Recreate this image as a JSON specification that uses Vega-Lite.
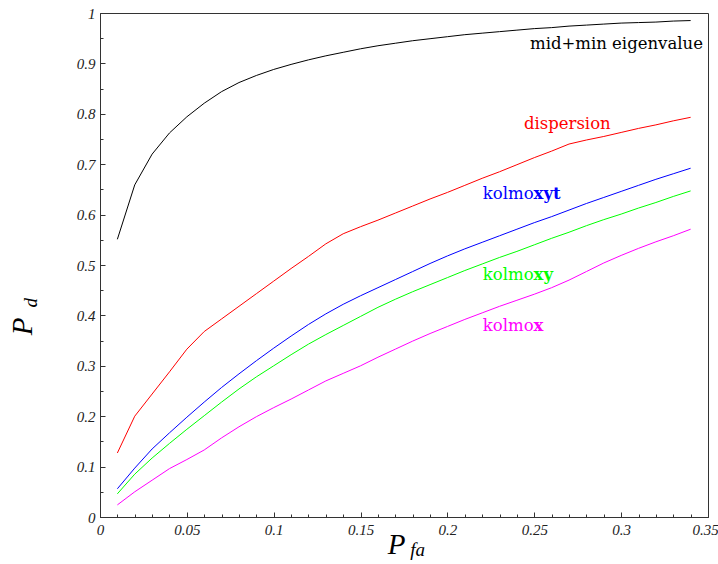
{
  "$schema": "https://vega.github.io/schema/vega-lite/v6.json",
  "width": 608,
  "height": 504,
  "autosize": {"type": "none"},
  "padding": {"left": 100, "top": 13, "right": 10, "bottom": 47},
  "background": "white",
  "config": {
    "view": {"stroke": "#333333", "strokeWidth": 1},
    "axis": {
      "grid": false,
      "domainColor": "#333333",
      "domainWidth": 1,
      "tickColor": "#333333",
      "tickWidth": 1,
      "labelFont": "Liberation Serif",
      "labelFontStyle": "italic",
      "labelFontSize": 15,
      "labelColor": "#222222",
      "titleFont": "Liberation Serif",
      "titleFontStyle": "italic",
      "titleFontWeight": "normal",
      "titleFontSize": 29,
      "titleColor": "#000000"
    }
  },
  "datasets": {
    "curves": [
      {"s":"mid+min eigenvalue","x":0.01,"y":0.551},{"s":"mid+min eigenvalue","x":0.02,"y":0.659},{"s":"mid+min eigenvalue","x":0.03,"y":0.720},{"s":"mid+min eigenvalue","x":0.04,"y":0.762},{"s":"mid+min eigenvalue","x":0.05,"y":0.794},{"s":"mid+min eigenvalue","x":0.06,"y":0.821},{"s":"mid+min eigenvalue","x":0.07,"y":0.844},{"s":"mid+min eigenvalue","x":0.08,"y":0.862},{"s":"mid+min eigenvalue","x":0.09,"y":0.876},{"s":"mid+min eigenvalue","x":0.10,"y":0.888},{"s":"mid+min eigenvalue","x":0.11,"y":0.898},{"s":"mid+min eigenvalue","x":0.12,"y":0.907},{"s":"mid+min eigenvalue","x":0.13,"y":0.915},{"s":"mid+min eigenvalue","x":0.14,"y":0.922},{"s":"mid+min eigenvalue","x":0.15,"y":0.929},{"s":"mid+min eigenvalue","x":0.16,"y":0.935},{"s":"mid+min eigenvalue","x":0.17,"y":0.940},{"s":"mid+min eigenvalue","x":0.18,"y":0.945},{"s":"mid+min eigenvalue","x":0.19,"y":0.949},{"s":"mid+min eigenvalue","x":0.20,"y":0.953},{"s":"mid+min eigenvalue","x":0.21,"y":0.957},{"s":"mid+min eigenvalue","x":0.22,"y":0.960},{"s":"mid+min eigenvalue","x":0.23,"y":0.963},{"s":"mid+min eigenvalue","x":0.24,"y":0.966},{"s":"mid+min eigenvalue","x":0.25,"y":0.969},{"s":"mid+min eigenvalue","x":0.26,"y":0.971},{"s":"mid+min eigenvalue","x":0.27,"y":0.974},{"s":"mid+min eigenvalue","x":0.28,"y":0.976},{"s":"mid+min eigenvalue","x":0.29,"y":0.978},{"s":"mid+min eigenvalue","x":0.30,"y":0.980},{"s":"mid+min eigenvalue","x":0.31,"y":0.981},{"s":"mid+min eigenvalue","x":0.32,"y":0.982},{"s":"mid+min eigenvalue","x":0.33,"y":0.984},{"s":"mid+min eigenvalue","x":0.34,"y":0.985},
      {"s":"dispersion","x":0.01,"y":0.127},{"s":"dispersion","x":0.02,"y":0.200},{"s":"dispersion","x":0.03,"y":0.244},{"s":"dispersion","x":0.04,"y":0.288},{"s":"dispersion","x":0.05,"y":0.333},{"s":"dispersion","x":0.06,"y":0.368},{"s":"dispersion","x":0.07,"y":0.393},{"s":"dispersion","x":0.08,"y":0.418},{"s":"dispersion","x":0.09,"y":0.443},{"s":"dispersion","x":0.10,"y":0.468},{"s":"dispersion","x":0.11,"y":0.493},{"s":"dispersion","x":0.12,"y":0.517},{"s":"dispersion","x":0.13,"y":0.542},{"s":"dispersion","x":0.14,"y":0.562},{"s":"dispersion","x":0.15,"y":0.576},{"s":"dispersion","x":0.16,"y":0.589},{"s":"dispersion","x":0.17,"y":0.603},{"s":"dispersion","x":0.18,"y":0.617},{"s":"dispersion","x":0.19,"y":0.631},{"s":"dispersion","x":0.20,"y":0.644},{"s":"dispersion","x":0.21,"y":0.658},{"s":"dispersion","x":0.22,"y":0.672},{"s":"dispersion","x":0.23,"y":0.685},{"s":"dispersion","x":0.24,"y":0.699},{"s":"dispersion","x":0.25,"y":0.713},{"s":"dispersion","x":0.26,"y":0.726},{"s":"dispersion","x":0.27,"y":0.740},{"s":"dispersion","x":0.28,"y":0.748},{"s":"dispersion","x":0.29,"y":0.755},{"s":"dispersion","x":0.30,"y":0.763},{"s":"dispersion","x":0.31,"y":0.771},{"s":"dispersion","x":0.32,"y":0.778},{"s":"dispersion","x":0.33,"y":0.786},{"s":"dispersion","x":0.34,"y":0.793},
      {"s":"kolmoxyt","x":0.01,"y":0.056},{"s":"kolmoxyt","x":0.02,"y":0.097},{"s":"kolmoxyt","x":0.03,"y":0.135},{"s":"kolmoxyt","x":0.04,"y":0.167},{"s":"kolmoxyt","x":0.05,"y":0.198},{"s":"kolmoxyt","x":0.06,"y":0.228},{"s":"kolmoxyt","x":0.07,"y":0.257},{"s":"kolmoxyt","x":0.08,"y":0.284},{"s":"kolmoxyt","x":0.09,"y":0.310},{"s":"kolmoxyt","x":0.10,"y":0.335},{"s":"kolmoxyt","x":0.11,"y":0.359},{"s":"kolmoxyt","x":0.12,"y":0.382},{"s":"kolmoxyt","x":0.13,"y":0.403},{"s":"kolmoxyt","x":0.14,"y":0.422},{"s":"kolmoxyt","x":0.15,"y":0.439},{"s":"kolmoxyt","x":0.16,"y":0.455},{"s":"kolmoxyt","x":0.17,"y":0.471},{"s":"kolmoxyt","x":0.18,"y":0.487},{"s":"kolmoxyt","x":0.19,"y":0.503},{"s":"kolmoxyt","x":0.20,"y":0.518},{"s":"kolmoxyt","x":0.21,"y":0.532},{"s":"kolmoxyt","x":0.22,"y":0.545},{"s":"kolmoxyt","x":0.23,"y":0.558},{"s":"kolmoxyt","x":0.24,"y":0.571},{"s":"kolmoxyt","x":0.25,"y":0.584},{"s":"kolmoxyt","x":0.26,"y":0.596},{"s":"kolmoxyt","x":0.27,"y":0.609},{"s":"kolmoxyt","x":0.28,"y":0.622},{"s":"kolmoxyt","x":0.29,"y":0.634},{"s":"kolmoxyt","x":0.30,"y":0.646},{"s":"kolmoxyt","x":0.31,"y":0.658},{"s":"kolmoxyt","x":0.32,"y":0.670},{"s":"kolmoxyt","x":0.33,"y":0.681},{"s":"kolmoxyt","x":0.34,"y":0.692},
      {"s":"kolmoxy","x":0.01,"y":0.046},{"s":"kolmoxy","x":0.02,"y":0.085},{"s":"kolmoxy","x":0.03,"y":0.117},{"s":"kolmoxy","x":0.04,"y":0.146},{"s":"kolmoxy","x":0.05,"y":0.174},{"s":"kolmoxy","x":0.06,"y":0.201},{"s":"kolmoxy","x":0.07,"y":0.228},{"s":"kolmoxy","x":0.08,"y":0.254},{"s":"kolmoxy","x":0.09,"y":0.278},{"s":"kolmoxy","x":0.10,"y":0.300},{"s":"kolmoxy","x":0.11,"y":0.322},{"s":"kolmoxy","x":0.12,"y":0.343},{"s":"kolmoxy","x":0.13,"y":0.362},{"s":"kolmoxy","x":0.14,"y":0.380},{"s":"kolmoxy","x":0.15,"y":0.398},{"s":"kolmoxy","x":0.16,"y":0.416},{"s":"kolmoxy","x":0.17,"y":0.432},{"s":"kolmoxy","x":0.18,"y":0.447},{"s":"kolmoxy","x":0.19,"y":0.461},{"s":"kolmoxy","x":0.20,"y":0.475},{"s":"kolmoxy","x":0.21,"y":0.489},{"s":"kolmoxy","x":0.22,"y":0.502},{"s":"kolmoxy","x":0.23,"y":0.515},{"s":"kolmoxy","x":0.24,"y":0.527},{"s":"kolmoxy","x":0.25,"y":0.540},{"s":"kolmoxy","x":0.26,"y":0.553},{"s":"kolmoxy","x":0.27,"y":0.565},{"s":"kolmoxy","x":0.28,"y":0.578},{"s":"kolmoxy","x":0.29,"y":0.590},{"s":"kolmoxy","x":0.30,"y":0.601},{"s":"kolmoxy","x":0.31,"y":0.613},{"s":"kolmoxy","x":0.32,"y":0.624},{"s":"kolmoxy","x":0.33,"y":0.636},{"s":"kolmoxy","x":0.34,"y":0.647},
      {"s":"kolmox","x":0.01,"y":0.024},{"s":"kolmox","x":0.02,"y":0.050},{"s":"kolmox","x":0.03,"y":0.073},{"s":"kolmox","x":0.04,"y":0.096},{"s":"kolmox","x":0.05,"y":0.114},{"s":"kolmox","x":0.06,"y":0.133},{"s":"kolmox","x":0.07,"y":0.157},{"s":"kolmox","x":0.08,"y":0.179},{"s":"kolmox","x":0.09,"y":0.199},{"s":"kolmox","x":0.10,"y":0.217},{"s":"kolmox","x":0.11,"y":0.234},{"s":"kolmox","x":0.12,"y":0.252},{"s":"kolmox","x":0.13,"y":0.270},{"s":"kolmox","x":0.14,"y":0.285},{"s":"kolmox","x":0.15,"y":0.300},{"s":"kolmox","x":0.16,"y":0.317},{"s":"kolmox","x":0.17,"y":0.333},{"s":"kolmox","x":0.18,"y":0.349},{"s":"kolmox","x":0.19,"y":0.364},{"s":"kolmox","x":0.20,"y":0.378},{"s":"kolmox","x":0.21,"y":0.392},{"s":"kolmox","x":0.22,"y":0.405},{"s":"kolmox","x":0.23,"y":0.418},{"s":"kolmox","x":0.24,"y":0.430},{"s":"kolmox","x":0.25,"y":0.442},{"s":"kolmox","x":0.26,"y":0.455},{"s":"kolmox","x":0.27,"y":0.470},{"s":"kolmox","x":0.28,"y":0.487},{"s":"kolmox","x":0.29,"y":0.504},{"s":"kolmox","x":0.30,"y":0.519},{"s":"kolmox","x":0.31,"y":0.533},{"s":"kolmox","x":0.32,"y":0.546},{"s":"kolmox","x":0.33,"y":0.558},{"s":"kolmox","x":0.34,"y":0.571}
    ],
    "labels": [
      {"s":"mid+min eigenvalue","x":0.2973,"y":0.9385,"t":"mid+min eigenvalue"},
      {"s":"dispersion","x":0.269,"y":0.780,"t":"dispersion"}
    ],
    "kolmo": [
      {"s":"kolmoxyt","x":0.2496,"y":0.641,"t":"kolmo"},
      {"s":"kolmoxy","x":0.2496,"y":0.480,"t":"kolmo"},
      {"s":"kolmox","x":0.2496,"y":0.379,"t":"kolmo"}
    ],
    "boldparts": [
      {"s":"kolmoxyt","x":0.2496,"y":0.641,"t":"xyt"},
      {"s":"kolmoxy","x":0.2496,"y":0.480,"t":"xy"},
      {"s":"kolmox","x":0.2496,"y":0.379,"t":"x"}
    ]
  },
  "layer": [
    {
      "data": {"name": "curves"},
      "mark": {"type": "line", "strokeWidth": 1, "interpolate": "linear"},
      "encoding": {
        "x": {
          "field": "x", "type": "quantitative",
          "scale": {"domain": [0, 0.35], "nice": false, "zero": false},
          "axis": {
            "title": "P",
            "titleX": 296,
            "titleY": 36,
            "titleAlign": "center",
            "titleBaseline": "alphabetic",
            "values": [0,0.01,0.02,0.03,0.04,0.05,0.06,0.07,0.08,0.09,0.1,0.11,0.12,0.13,0.14,0.15,0.16,0.17,0.18,0.19,0.2,0.21,0.22,0.23,0.24,0.25,0.26,0.27,0.28,0.29,0.3,0.31,0.32,0.33,0.34,0.35],
            "tickCount": 200,
            "format": "~g",
            "labelExpr": "round(datum.value*100) % 5 == 0 ? datum.label : ''",
            "labelOverlap": false,
            "labelFlush": false,
            "labelPadding": 10,
            "labelOffset": {"condition": {"test": "datum.value > 0.345", "value": -3}, "value": 0},
            "tickSize": {"condition": {"test": "round(datum.value*100) % 5 == 0", "value": -5}, "value": -3}
          }
        },
        "y": {
          "field": "y", "type": "quantitative",
          "scale": {"domain": [0, 1], "nice": false, "zero": false},
          "axis": {
            "title": "P",
            "titleAngle": -90,
            "titleX": -69,
            "titleY": 313,
            "titleAlign": "center",
            "titleBaseline": "alphabetic",
            "values": [0,0.05,0.1,0.15,0.2,0.25,0.3,0.35,0.4,0.45,0.5,0.55,0.6,0.65,0.7,0.75,0.8,0.85,0.9,0.95,1],
            "tickCount": 200,
            "format": "~g",
            "labelExpr": "round(datum.value*100) % 10 == 0 ? datum.label : ''",
            "labelOverlap": false,
            "labelFlush": false,
            "labelPadding": 10,
            "tickSize": {"condition": {"test": "round(datum.value*100) % 10 == 0", "value": -5}, "value": -3}
          }
        },
        "color": {
          "field": "s", "type": "nominal", "legend": null,
          "scale": {
            "domain": ["mid+min eigenvalue","dispersion","kolmoxyt","kolmoxy","kolmox"],
            "range": ["#000000","#ff0000","#0000ff","#00ff00","#ff00ff"]
          }
        },
        "detail": {"field": "s"}
      }
    },
    {
      "data": {"name": "labels"},
      "mark": {"type": "text", "font": "DejaVu Serif", "fontSize": 16.5, "baseline": "middle", "align": "center"},
      "encoding": {
        "x": {"field": "x", "type": "quantitative"},
        "y": {"field": "y", "type": "quantitative"},
        "text": {"field": "t"},
        "color": {"field": "s", "type": "nominal", "legend": null}
      }
    },
    {
      "data": {"name": "kolmo"},
      "mark": {"type": "text", "font": "DejaVu Serif", "fontSize": 16.5, "baseline": "middle", "align": "right"},
      "encoding": {
        "x": {"field": "x", "type": "quantitative"},
        "y": {"field": "y", "type": "quantitative"},
        "text": {"field": "t"},
        "color": {"field": "s", "type": "nominal", "legend": null}
      }
    },
    {
      "data": {"name": "boldparts"},
      "mark": {"type": "text", "font": "DejaVu Serif", "fontSize": 16.5, "fontWeight": "bold", "baseline": "middle", "align": "left"},
      "encoding": {
        "x": {"field": "x", "type": "quantitative"},
        "y": {"field": "y", "type": "quantitative"},
        "text": {"field": "t"},
        "color": {"field": "s", "type": "nominal", "legend": null}
      }
    },
    {
      "data": {"values": [{"x": -0.0365, "y": 0.425, "t": "d"}]},
      "mark": {"type": "text", "font": "Liberation Serif", "fontStyle": "italic", "fontSize": 19, "baseline": "alphabetic", "align": "center", "angle": 270, "color": "#000000"},
      "encoding": {
        "x": {"field": "x", "type": "quantitative"},
        "y": {"field": "y", "type": "quantitative"},
        "text": {"field": "t"}
      }
    },
    {
      "data": {"values": [{"x": 0.1828, "y": -0.0774, "t": "fa"}]},
      "mark": {"type": "text", "font": "Liberation Serif", "fontStyle": "italic", "fontSize": 19, "baseline": "alphabetic", "align": "center", "color": "#000000"},
      "encoding": {
        "x": {"field": "x", "type": "quantitative"},
        "y": {"field": "y", "type": "quantitative"},
        "text": {"field": "t"}
      }
    }
  ]
}
